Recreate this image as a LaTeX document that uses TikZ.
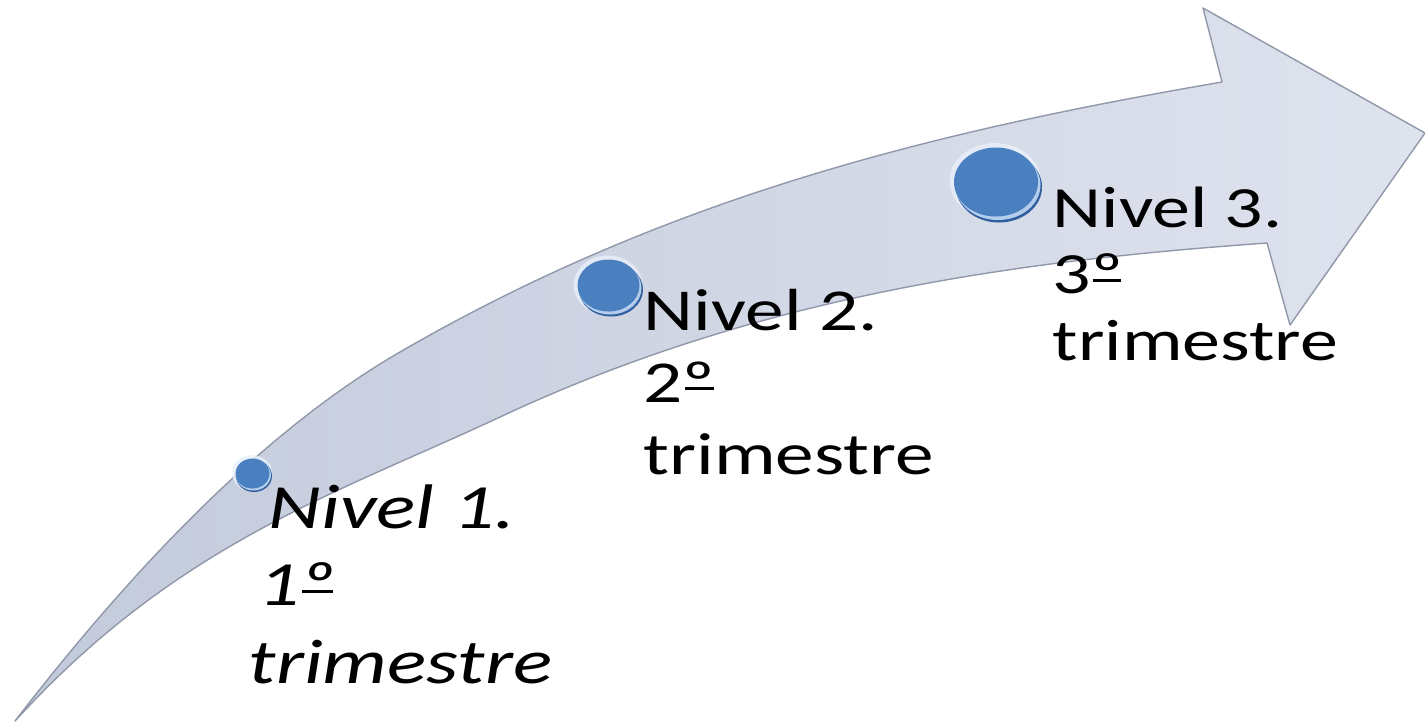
\documentclass[tikz,border=0pt]{standalone}
\usepackage{fontspec}
\newfontfamily\lblfont[FakeStretch=1.3]{Carlito}
\definecolor{BandDark}{HTML}{C3CADB}
\definecolor{BandLight}{HTML}{DFE3EE}
\definecolor{BandEdge}{HTML}{9098AA}
\definecolor{DotFace}{HTML}{4A7FC0}
\definecolor{DotSide}{HTML}{2E5E9E}
\definecolor{DotShine}{HTML}{B4CDEC}
\definecolor{DotGlow}{HTML}{E8F0FA}

% underlined ordinal sign, as the labels print it
\newcommand{\ulord}[1]{\setbox0\hbox{#1}\rlap{\kern0.03em\rule[0.2em]{\dimexpr\wd0-0.06em\relax}{0.055em}}\box0}

\tikzset{
  lvltext/.style={anchor=base west, inner sep=0pt, align=left, text=black},
  dotglow/.style={fill=DotGlow, opacity=0.8},
  dotside/.style={fill=DotSide},
  dotshine/.style={fill=DotShine},
  dotface/.style={fill=DotFace}
}

\begin{document}
\begin{tikzpicture}[x=0.01cm,y=-0.01cm, line cap=round, line join=round]
\useasboundingbox (0,0) rectangle (1425,726);

% curved arrow body
\shadedraw[left color=BandDark, right color=BandLight, draw=BandEdge, line width=0.4pt]
  (15,721) .. controls (143,555) and (272,426) .. (400,352)
  .. controls (674,193) and (948,129) .. (1222,82)
  -- (1203,8) -- (1425,133) -- (1290,325) -- (1267,243)
  .. controls (1011,261) and (756,297) .. (500,417)
  .. controls (338,493) and (177,543) .. (15,721) -- cycle;

% dot 1
\fill[dotglow] (252,473) ellipse [x radius=20, y radius=18];
\fill[dotside] (254,476) ellipse [x radius=18, y radius=16];
\fill[dotshine] (253.5,475) ellipse [x radius=17.5, y radius=15.5];
\fill[dotface] (252.5,473.5) ellipse [x radius=17, y radius=15];
% dot 2
\fill[dotglow] (608,285) ellipse [x radius=34.5, y radius=29.5];
\fill[dotside] (611,289.5) ellipse [x radius=32, y radius=27];
\fill[dotshine] (610,288) ellipse [x radius=31.5, y radius=26.5];
\fill[dotface] (608.5,285.5) ellipse [x radius=31, y radius=26];
% dot 3
\fill[dotglow] (995,181) ellipse [x radius=45.5, y radius=38];
\fill[dotside] (999,187) ellipse [x radius=43, y radius=35.5];
\fill[dotshine] (998,185) ellipse [x radius=42.5, y radius=35];
\fill[dotface] (996,182) ellipse [x radius=42, y radius=34.5];

% labels (anchored at the baseline of the last line)
\node[lvltext, font=\lblfont\itshape\fontsize{17.9}{22}\selectfont] (nivel1) at (268,683)
{Nivel 1.\\\hspace*{-0.1cm}1\ulord{º}\\\hspace*{-0.2cm}trimestre};
\node[lvltext, font=\lblfont\fontsize{16.9}{20.4}\selectfont] (nivel2) at (643,474)
{Nivel 2.\\2\ulord{º}\\trimestre};
\node[lvltext, font=\lblfont\fontsize{16.6}{18.9}\selectfont] (nivel3) at (1052,360)
{Nivel 3.\\3\ulord{º}\\trimestre};

\end{tikzpicture}
\end{document}
